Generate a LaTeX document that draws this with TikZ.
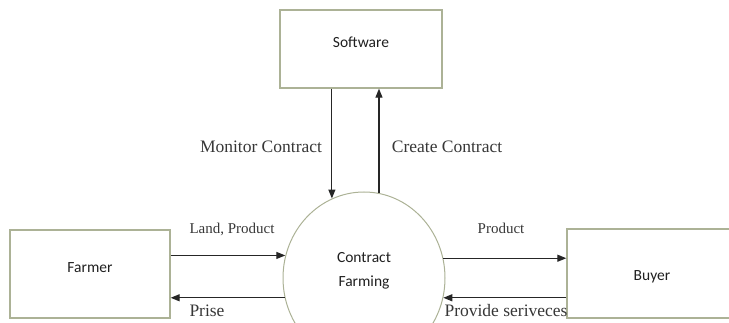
\documentclass[tikz,border=0pt]{standalone}
\usepackage{fontspec}
\setmainfont{Liberation Serif}
\newfontfamily\boxfont{Carlito}
\usetikzlibrary{shapes.geometric,arrows.meta}

\definecolor{edge}{RGB}{172,178,150}
\definecolor{labelgray}{RGB}{55,55,55}

\tikzset{
  entity/.style={draw=edge, line width=1.3pt, rectangle, inner sep=0pt,
                 font=\boxfont\fontsize{15.5}{24}\selectfont, text=black!88},
  raised/.style={text height=10pt, text depth=12pt},
  process/.style={draw=edge, line width=1pt, ellipse, inner sep=0pt,
                  minimum width=162, minimum height=172, align=center,
                  font=\boxfont\fontsize{15.5}{24}\selectfont, text=black!88},
  flow/.style={draw=black!85, line width=1.2pt, -{Triangle[length=9pt,width=7pt]}},
  biglabel/.style={font=\fontsize{17.5}{20}\selectfont, text=labelgray, inner sep=0pt},
  smalllabel/.style={font=\fontsize{15}{18}\selectfont, text=labelgray, inner sep=0pt}
}

\begin{document}
\begin{tikzpicture}[x=1pt,y=-1pt]
  \useasboundingbox (0,0) rectangle (729,323);
  \clip (0,0) rectangle (729,323);

  % external entities and the central process
  \node[entity, raised, minimum width=162, minimum height=78] (sw) at (361,49) {Software};
  \node[entity, raised, minimum width=160, minimum height=88] (fa) at (90,274) {Farmer};
  \node[entity, text height=14pt, text depth=0pt, minimum width=170, minimum height=89] (by) at (652,273.5) {Buyer};
  \node[process] (cf) at (364,278) {Contract\\Farming\\[-14pt]\strut};

  % data flows
  \draw[flow] (cf.112 |- sw.south) -- (cf.112);
  \draw[flow] (cf.80) -- (cf.80 |- sw.south);
  \draw[flow] (cf.164 -| fa.east) -- (cf.164);
  \draw[flow] (cf.194) -- (cf.194 -| fa.east);
  \draw[flow] (cf.14) -- (cf.14 -| by.west);
  \draw[flow] (cf.-14 -| by.west) -- (cf.-14);

  % flow labels
  \node[biglabel] (lmon) at (261,147) {Monitor Contract};
  \node[biglabel] (lcre) at (447,147) {Create Contract};
  \node[smalllabel] (lland) at (232,229) {Land, Product};
  \node[biglabel] (lpri) at (207,311) {Prise};
  \node[smalllabel] (lpro) at (501,228) {Product};
  \node[biglabel] (lsrv) at (506,311) {Provide seriveces};
\end{tikzpicture}
\end{document}
